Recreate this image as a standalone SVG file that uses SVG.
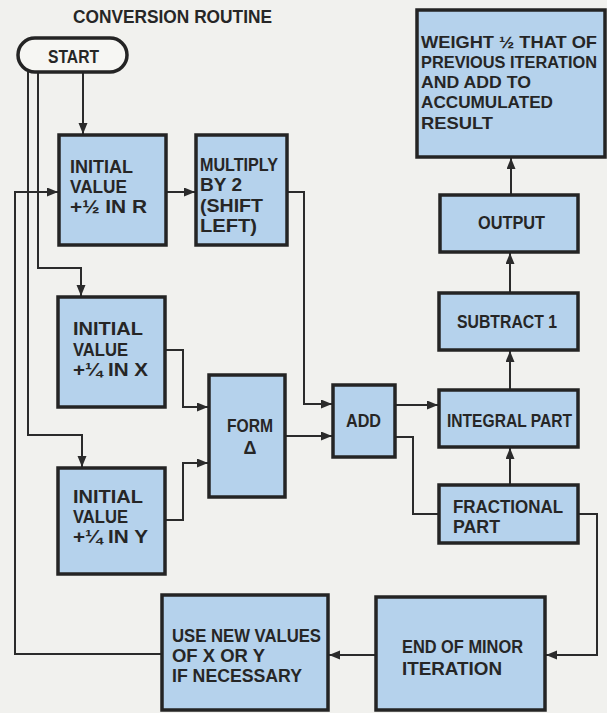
<svg xmlns="http://www.w3.org/2000/svg" width="607" height="713" viewBox="0 0 607 713">
<defs>
<style>
.bg{fill:#f1f1ee}
.box{fill:#b5d2ec;stroke:#242424;stroke-width:3.5}
.term{fill:#f6f6f3;stroke:#242424;stroke-width:3.5}
.t{font-family:"Liberation Sans",Arial,sans-serif;font-weight:bold;font-size:18px;fill:#262626}
.s{font-size:16.5px}
.c{fill:none;stroke:#2b2b2b;stroke-width:2}
</style>
<marker id="ah" markerUnits="userSpaceOnUse" markerWidth="12" markerHeight="10" refX="11" refY="4.5" orient="auto">
<path d="M0,0 L11,4.5 L0,9 z" fill="#2b2b2b"/>
</marker>
</defs>
<rect class="bg" x="0" y="0" width="607" height="713"/>
<text class="t" x="73" y="23" textLength="199" lengthAdjust="spacingAndGlyphs">CONVERSION ROUTINE</text>

<g id="connectors">
<path class="c" d="M83 72 V134" marker-end="url(#ah)"/>
<path class="c" d="M38 72 V268 H81 V296" marker-end="url(#ah)"/>
<path class="c" d="M28 72 V435 H82 V467" marker-end="url(#ah)"/>
<path class="c" d="M162 654 H15 V192 H58" marker-end="url(#ah)"/>
<path class="c" d="M166 192 H195" marker-end="url(#ah)"/>
<path class="c" d="M287 192 H304 V404 H332" marker-end="url(#ah)"/>
<path class="c" d="M165 350 H183 V407 H208" marker-end="url(#ah)"/>
<path class="c" d="M165 520 H183 V463 H208" marker-end="url(#ah)"/>
<path class="c" d="M285 436 H332" marker-end="url(#ah)"/>
<path class="c" d="M395 405 H438" marker-end="url(#ah)"/>
<path class="c" d="M395 437 H413 V514 H439"/>
<path class="c" d="M510 485 V448" marker-end="url(#ah)"/>
<path class="c" d="M510 390 V351" marker-end="url(#ah)"/>
<path class="c" d="M510 293 V253" marker-end="url(#ah)"/>
<path class="c" d="M511 195 V158" marker-end="url(#ah)"/>
<path class="c" d="M578 514 H597 V655 H546" marker-end="url(#ah)"/>
<path class="c" d="M376 655 H329" marker-end="url(#ah)"/>
</g>

<g id="start">
<rect class="term" x="18" y="38" width="109" height="34" rx="17"/>
<text class="t" x="48" y="63" textLength="51" lengthAdjust="spacingAndGlyphs">START</text>
</g>

<g id="init-r">
<rect class="box" x="59" y="135" width="107" height="110"/>
<text class="t" x="70" y="173" textLength="63" lengthAdjust="spacingAndGlyphs">INITIAL</text>
<text class="t" x="70" y="193" textLength="57" lengthAdjust="spacingAndGlyphs">VALUE</text>
<text class="t" x="70" y="213" textLength="77" lengthAdjust="spacingAndGlyphs">+½ IN R</text>
</g>

<g id="multiply">
<rect class="box" x="196" y="135" width="91" height="110"/>
<text class="t" x="200" y="171" textLength="78" lengthAdjust="spacingAndGlyphs">MULTIPLY</text>
<text class="t" x="200" y="191" textLength="42" lengthAdjust="spacingAndGlyphs">BY 2</text>
<text class="t" x="200" y="212" textLength="63" lengthAdjust="spacingAndGlyphs">(SHIFT</text>
<text class="t" x="200" y="232" textLength="57" lengthAdjust="spacingAndGlyphs">LEFT)</text>
</g>

<g id="init-x">
<rect class="box" x="58" y="297" width="107" height="110"/>
<text class="t" x="73" y="335" textLength="70" lengthAdjust="spacingAndGlyphs">INITIAL</text>
<text class="t" x="73" y="356" textLength="55" lengthAdjust="spacingAndGlyphs">VALUE</text>
<text class="t" x="73" y="376" textLength="75" lengthAdjust="spacingAndGlyphs">+¼ IN X</text>
</g>

<g id="init-y">
<rect class="box" x="58" y="468" width="107" height="106"/>
<text class="t" x="73" y="503" textLength="70" lengthAdjust="spacingAndGlyphs">INITIAL</text>
<text class="t" x="73" y="523" textLength="55" lengthAdjust="spacingAndGlyphs">VALUE</text>
<text class="t" x="73" y="543" textLength="75" lengthAdjust="spacingAndGlyphs">+¼ IN Y</text>
</g>

<g id="form">
<rect class="box" x="209" y="375" width="76" height="122"/>
<text class="t" x="227" y="432" textLength="46" lengthAdjust="spacingAndGlyphs">FORM</text>
<text class="t" x="250" y="454" text-anchor="middle" font-size="15">Δ</text>
</g>

<g id="add">
<rect class="box" x="333" y="385" width="62" height="72"/>
<text class="t" x="346" y="427" textLength="35" lengthAdjust="spacingAndGlyphs">ADD</text>
</g>

<g id="integral">
<rect class="box" x="439" y="390" width="139" height="57"/>
<text class="t" x="447" y="427" textLength="125" lengthAdjust="spacingAndGlyphs">INTEGRAL PART</text>
</g>

<g id="fractional">
<rect class="box" x="439" y="485" width="139" height="58"/>
<text class="t" x="453" y="513" textLength="110" lengthAdjust="spacingAndGlyphs">FRACTIONAL</text>
<text class="t" x="453" y="533" textLength="47" lengthAdjust="spacingAndGlyphs">PART</text>
</g>

<g id="subtract">
<rect class="box" x="439" y="293" width="139" height="57"/>
<text class="t" x="457" y="328" textLength="100" lengthAdjust="spacingAndGlyphs">SUBTRACT 1</text>
</g>

<g id="output">
<rect class="box" x="440" y="195" width="138" height="57"/>
<text class="t" x="478" y="229" textLength="67" lengthAdjust="spacingAndGlyphs">OUTPUT</text>
</g>

<g id="weight">
<rect class="box" x="417" y="10" width="188" height="147"/>
<text class="t s" x="421" y="48" textLength="176" lengthAdjust="spacingAndGlyphs">WEIGHT ½ THAT OF</text>
<text class="t s" x="421" y="68" textLength="176" lengthAdjust="spacingAndGlyphs">PREVIOUS ITERATION</text>
<text class="t s" x="421" y="88" textLength="110" lengthAdjust="spacingAndGlyphs">AND ADD TO</text>
<text class="t s" x="421" y="108" textLength="132" lengthAdjust="spacingAndGlyphs">ACCUMULATED</text>
<text class="t s" x="421" y="129" textLength="72" lengthAdjust="spacingAndGlyphs">RESULT</text>
</g>

<g id="end-minor">
<rect class="box" x="376" y="597" width="169" height="113"/>
<text class="t" x="402" y="653" textLength="121" lengthAdjust="spacingAndGlyphs">END OF MINOR</text>
<text class="t" x="402" y="675" textLength="100" lengthAdjust="spacingAndGlyphs">ITERATION</text>
</g>

<g id="use-new">
<rect class="box" x="162" y="595" width="166" height="115"/>
<text class="t" x="172" y="642" textLength="149" lengthAdjust="spacingAndGlyphs">USE NEW VALUES</text>
<text class="t" x="172" y="662" textLength="93" lengthAdjust="spacingAndGlyphs">OF X OR Y</text>
<text class="t" x="172" y="682" textLength="130" lengthAdjust="spacingAndGlyphs">IF NECESSARY</text>
</g>
</svg>
